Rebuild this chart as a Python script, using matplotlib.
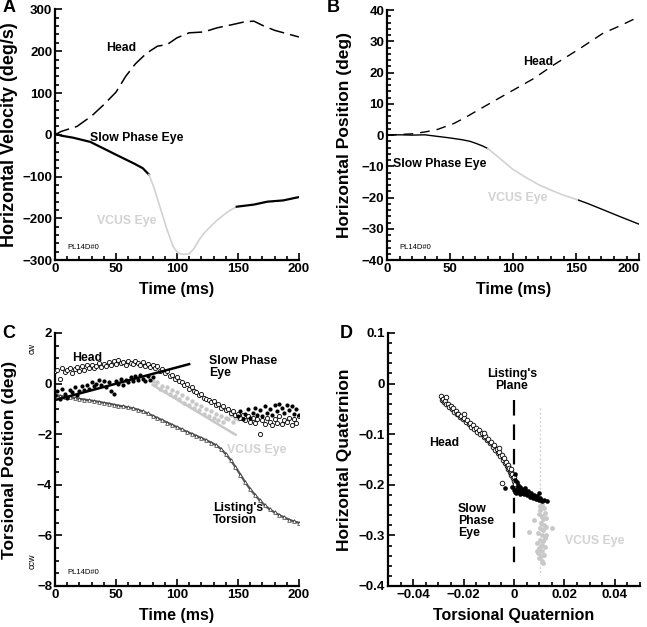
import matplotlib
matplotlib.use('Agg')
import matplotlib.pyplot as plt
from matplotlib.ticker import MultipleLocator

plt.rcParams['font.family'] = ['Liberation Sans', 'DejaVu Sans']
plt.rcParams['font.weight'] = 'bold'
plt.rcParams['axes.unicode_minus'] = True

GRAY = '#d2d2d2'

# --- panel A: horizontal velocity (deg/s)
a_head_t = [0, 5, 18, 30, 40, 50, 58, 66, 75, 84, 92, 100, 110, 122, 133, 146, 155, 163, 170, 180, 190, 200]
a_head_v = [0, 8, 20, 45, 72, 102, 140, 170, 195, 212, 216, 232, 244, 246, 256, 264, 270, 272, 262, 250, 242, 234]
a_slow1_t = [0, 5, 15, 29, 40, 51, 65, 72, 77]
a_slow1_v = [3, -2, -7, -17, -33, -49, -69, -80, -95]
a_vcus_t = [77, 81, 86, 92, 97, 101, 105, 110, 114, 118, 122, 128, 133, 139, 144, 149]
a_vcus_v = [-95, -125, -172, -228, -268, -283, -286, -285, -272, -252, -236, -218, -204, -190, -180, -172]
a_slow2_t = [149, 163, 174, 187, 200]
a_slow2_v = [-172, -167, -160, -157, -149]

# --- panel B: horizontal position (deg)
b_head_t = [0, 20, 30, 40, 53, 62, 71, 84, 98, 116, 132, 153, 171, 185, 200]
b_head_v = [0, 0.4, 1.0, 1.8, 3.7, 5.6, 7.7, 10.7, 13.9, 18.0, 22.4, 27.7, 32.5, 35.0, 37.9]
b_slow1_t = [0, 10, 20, 30, 40, 50, 60, 66, 71, 76, 80]
b_slow1_v = [0, 0.1, 0.0, 0.1, -0.4, -0.9, -1.5, -2.0, -2.7, -3.5, -4.3]
b_vcus_t = [80, 90, 100, 110, 120, 130, 140, 152]
b_vcus_v = [-4.3, -7.6, -11.0, -13.5, -15.8, -17.6, -19.2, -20.8]
b_slow2_t = [152, 160, 171, 185, 200]
b_slow2_v = [-20.8, -22.0, -23.8, -26.1, -28.5]
time_ticks = [0, 50, 100, 150, 200]

# --- panel C: torsional position (deg)
c_head_t = list(range(0, 201, 2))
c_head_v = [0.50, 0.55, 0.20, 0.60, 0.45, 0.55, 0.62, 0.40, 0.58, 0.65, 0.50, 0.68, 0.55, 0.72, 0.60,
            0.75, 0.62, 0.70, 0.80, 0.66, 0.78, 0.70, 0.85, 0.74, 0.88, 0.78, 0.92, 0.80, 0.86, 0.75,
            0.90, 0.82, 0.76, 0.88, 0.80, 0.72, 0.84, 0.70, 0.78, 0.65, 0.74, 0.60, 0.68, 0.50, 0.58,
            0.40, 0.48, 0.30, 0.35, 0.20, 0.25, 0.10, 0.05, -0.05, -0.02, -0.20, -0.15, -0.30, -0.35,
            -0.45, -0.40, -0.55, -0.60, -0.65, -0.72, -0.70, -0.85, -0.80, -0.95, -0.90, -1.05, -1.00,
            -1.15, -1.10, -1.25, -1.20, -1.35, -1.25, -1.45, -1.30, -1.50, -1.35, -1.55, -1.40, -2.00,
            -1.45, -1.60, -1.35, -1.50, -1.65, -1.40, -1.55, -1.30, -1.60, -1.45, -1.50, -1.35, -1.65,
            -1.40, -1.55, -1.30]
c_slow1_t = list(range(0, 81, 2))
c_slow1_v = [-0.45, -0.30, -0.60, -0.20, -0.40, -0.55, -0.25, -0.35, -0.15, -0.45, -0.30, -0.10,
             -0.25, -0.05, -0.20, 0.05, -0.10, 0.00, 0.15, -0.05, 0.10, -0.15, 0.05, -0.30, -0.40,
             0.10, 0.00, 0.20, -0.05, 0.15, 0.05, 0.25, 0.10, 0.30, 0.15, 0.35, 0.20, 0.10, 0.30,
             0.15, 0.25]
c_slow2_t = list(range(150, 201, 2))
c_slow2_v = [-1.30, -1.10, -1.40, -1.20, -1.00, -1.35, -1.15, -0.95, -1.25, -1.05, -1.30, -0.90,
             -1.15, -1.00, -1.25, -0.85, -1.10, -0.80, -0.95, -1.15, -0.85, -1.05, -0.90, -1.20,
             -1.00, -1.25]
c_vcus_t = list(range(80, 151, 2))
c_vcus_v = [0.10, -0.05, 0.05, -0.20, -0.10, -0.30, -0.15, -0.40, -0.25, -0.50, -0.35, -0.60,
            -0.45, -0.75, -0.55, -0.85, -0.70, -0.95, -0.80, -1.05, -0.90, -1.20, -1.00, -1.30,
            -1.10, -1.35, -1.20, -1.45, -1.30, -1.50, -1.35, -1.40, -1.25, -1.50, -1.35, -1.40]
c_list_t = list(range(0, 201, 4))
c_list_v = [-0.45, -0.48, -0.51, -0.54, -0.57, -0.60, -0.63, -0.66, -0.69, -0.72, -0.76, -0.79,
            -0.83, -0.87, -0.90, -0.94, -0.98, -1.03, -1.10, -1.18, -1.27, -1.36, -1.45, -1.54,
            -1.63, -1.72, -1.81, -1.90, -1.98, -2.07, -2.15, -2.24, -2.33, -2.43, -2.58, -2.78,
            -3.02, -3.30, -3.60, -3.90, -4.17, -4.40, -4.62, -4.81, -4.97, -5.09, -5.20, -5.29,
            -5.38, -5.45, -5.50]
c_fit_slow_t = [0, 110]
c_fit_slow_v = [-0.65, 0.77]
c_fit_vcus_t = [80, 148]
c_fit_vcus_v = [-0.05, -2.02]

# --- panel D: quaternions
d_head_q = [-0.0290, -0.0285, -0.0280, -0.0276, -0.0272, -0.0268, -0.0262, -0.0258, -0.0252, -0.0247,
            -0.0243, -0.0238, -0.0232, -0.0226, -0.0221, -0.0215, -0.0210, -0.0204, -0.0198, -0.0192,
            -0.0186, -0.0180, -0.0175, -0.0169, -0.0163, -0.0157, -0.0151, -0.0145, -0.0139, -0.0133,
            -0.0127, -0.0121, -0.0115, -0.0109, -0.0103, -0.0097, -0.0091, -0.0085, -0.0080, -0.0074,
            -0.0069, -0.0064, -0.0059, -0.0054, -0.0049, -0.0045, -0.0040, -0.0036, -0.0032, -0.0028,
            -0.0025, -0.0022, -0.0019, -0.0016, -0.0013, -0.0010, -0.0007, -0.0004, -0.0002, 0.0001,
            0.0004, -0.0046, -0.0270, -0.0200, -0.0120, -0.0060, -0.0010]
d_head_h = [-0.024, -0.033, -0.030, -0.036, -0.034, -0.041, -0.040, -0.046, -0.044, -0.051,
            -0.049, -0.056, -0.055, -0.061, -0.060, -0.066, -0.064, -0.070, -0.068, -0.075,
            -0.072, -0.080, -0.078, -0.085, -0.082, -0.090, -0.087, -0.095, -0.092, -0.100,
            -0.097, -0.106, -0.103, -0.112, -0.110, -0.118, -0.116, -0.125, -0.122, -0.131,
            -0.129, -0.138, -0.135, -0.144, -0.142, -0.151, -0.148, -0.157, -0.155, -0.163,
            -0.161, -0.169, -0.167, -0.175, -0.173, -0.181, -0.179, -0.187, -0.185, -0.193,
            -0.198, -0.196, -0.027, -0.060, -0.097, -0.128, -0.168]
d_slow_q = [-0.0037, -0.0008, 0.0000, 0.0003, 0.0006, 0.0009, 0.0012, 0.0015, 0.0018, 0.0021,
            0.0024, 0.0027, 0.0030, 0.0033, 0.0036, 0.0040, 0.0044, 0.0048, 0.0052, 0.0056,
            0.0060, 0.0064, 0.0068, 0.0072, 0.0076, 0.0080, 0.0084, 0.0088, 0.0092, 0.0096,
            0.0100, 0.0104, 0.0108, 0.0112, 0.0120, 0.0131, 0.0099, 0.0005, 0.0015, 0.0025,
            0.0002, 0.0010, 0.0045, 0.0055]
d_slow_h = [-0.207, -0.205, -0.210, -0.214, -0.208, -0.216, -0.211, -0.207, -0.215, -0.210,
            -0.218, -0.212, -0.209, -0.216, -0.213, -0.219, -0.211, -0.216, -0.221, -0.214,
            -0.219, -0.224, -0.217, -0.222, -0.226, -0.220, -0.225, -0.229, -0.223, -0.228,
            -0.231, -0.226, -0.230, -0.233, -0.231, -0.232, -0.216, -0.190, -0.200, -0.205,
            -0.178, -0.195, -0.206, -0.212]
d_vcus_q = [0.0112, 0.0118, 0.0105, 0.0122, 0.0110, 0.0098, 0.0115, 0.0125, 0.0108, 0.0119,
            0.0102, 0.0114, 0.0126, 0.0096, 0.0110, 0.0121, 0.0104, 0.0092, 0.0117, 0.0108,
            0.0100, 0.0113, 0.0123, 0.0095, 0.0106, 0.0118, 0.0101, 0.0112, 0.0090, 0.0115,
            0.0059, 0.0151, 0.0078, 0.0128, 0.0103, 0.0111]
d_vcus_h = [-0.238, -0.245, -0.250, -0.255, -0.262, -0.258, -0.268, -0.265, -0.275, -0.280,
            -0.285, -0.290, -0.283, -0.295, -0.300, -0.305, -0.310, -0.315, -0.312, -0.320,
            -0.325, -0.330, -0.322, -0.335, -0.340, -0.338, -0.345, -0.350, -0.330, -0.355,
            -0.293, -0.285, -0.270, -0.300, -0.242, -0.318]
d_listing_q = [0, 0]
d_listing_h = [-0.033, -0.359]
d_vcusaxis_q = [0.0105, 0.0105]
d_vcusaxis_h = [-0.049, -0.379]


def style(ax, xmaj, xmin, ymaj, ymin):
    for s in ['top', 'right']:
        ax.spines[s].set_visible(False)
    for s in ['left', 'bottom']:
        ax.spines[s].set_linewidth(1.6)
    ax.xaxis.set_major_locator(MultipleLocator(xmaj))
    ax.xaxis.set_minor_locator(MultipleLocator(xmin))
    ax.yaxis.set_major_locator(MultipleLocator(ymaj))
    ax.yaxis.set_minor_locator(MultipleLocator(ymin))
    ax.tick_params(which='both', direction='in', width=1.2, labelsize=9.5, pad=2)
    ax.tick_params(which='major', length=5)
    ax.tick_params(which='minor', length=3)


def labels(ax, xl, yl, ysize, yx):
    ax.set_xlabel(xl, fontsize=11.5, fontweight='bold')
    ax.set_ylabel(yl, fontsize=ysize, fontweight='bold')
    ax.xaxis.set_label_coords(0.5, -0.088)
    ax.yaxis.set_label_coords(yx, 0.5)
    for lab in ax.get_xticklabels() + ax.get_yticklabels():
        lab.set_fontweight('bold')


fig = plt.figure(figsize=(6.47, 6.27), dpi=100)
axA = fig.add_axes([0.085, 0.585, 0.377, 0.400])
axB = fig.add_axes([0.598, 0.585, 0.390, 0.399])
axC = fig.add_axes([0.085, 0.0654, 0.377, 0.4035])
axD = fig.add_axes([0.5997, 0.0654, 0.3895, 0.4035])

# A
axA.plot(a_head_t, a_head_v, color='black', lw=1.1, dashes=(10, 4))
axA.plot(a_slow1_t, a_slow1_v, color='black', lw=1.6)
axA.plot(a_vcus_t, a_vcus_v, color=GRAY, lw=1.2)
axA.plot(a_slow2_t, a_slow2_v, color='black', lw=1.6)
axA.set_xlim(0, 200)
axA.set_ylim(-300, 300)
style(axA, 50, 10, 100, 20)
labels(axA, 'Time (ms)', 'Horizontal Velocity (deg/s)', 13, -0.152)

# B
axB.plot(b_head_t, b_head_v, color='black', lw=1.0, dashes=(7, 5))
axB.plot(b_slow1_t, b_slow1_v, color='black', lw=1.0)
axB.plot(b_vcus_t, b_vcus_v, color=GRAY, lw=1.2)
axB.plot(b_slow2_t, b_slow2_v, color='black', lw=1.0)
axB.set_xlim(0, 200)
axB.set_ylim(-40, 40)
style(axB, 50, 10, 10, 2)
axB.set_xticks(time_ticks)
axB.set_xticklabels([str(t) for t in time_ticks])
labels(axB, 'Time (ms)', 'Horizontal Position (deg)', 12.5, -0.139)
# the last time label sits left of its tick so that it stays inside the figure
axB.get_xticklabels()[len(time_ticks) - 1].set_horizontalalignment('right')

# C
axC.plot(c_list_t, c_list_v, color='#555555', lw=1.6, marker='^', ms=2.6, mfc='white',
         mec='#333333', mew=0.5, zorder=2)
axC.scatter(c_vcus_t, c_vcus_v, s=10, color='#c8c8c8', lw=0, zorder=2)
axC.scatter(c_head_t, c_head_v, s=9, facecolor='white', edgecolor='black', lw=0.6, zorder=3)
axC.scatter(c_slow1_t, c_slow1_v, s=9, color='black', lw=0, zorder=4)
axC.scatter(c_slow2_t, c_slow2_v, s=9, color='black', lw=0, zorder=4)
axC.plot(c_fit_slow_t, c_fit_slow_v, color='black', lw=1.8, zorder=5)
axC.plot(c_fit_vcus_t, c_fit_vcus_v, color='#c8c8c8', lw=1.8, zorder=2)
axC.set_xlim(0, 200)
axC.set_ylim(-8, 2)
style(axC, 50, 10, 2, 0.5)
labels(axC, 'Time (ms)', 'Torsional Position (deg)', 12.5, -0.156)

# D
axD.plot(d_listing_q, d_listing_h, color='black', lw=1.6, dashes=(7, 4))
axD.plot(d_vcusaxis_q, d_vcusaxis_h, color=GRAY, lw=1.0, dashes=(1.5, 1.5))
axD.scatter(d_vcus_q, d_vcus_h, s=12, color='#c8c8c8', lw=0, zorder=2)
axD.scatter(d_head_q, d_head_h, s=11, facecolor='white', edgecolor='black', lw=0.6, zorder=3)
axD.scatter(d_slow_q, d_slow_h, s=11, color='black', lw=0, zorder=4)
axD.set_xlim(-0.05, 0.05)
axD.set_ylim(-0.4, 0.1)
style(axD, 0.02, 0.005, 0.1, 0.02)
axD.set_xticks([-0.04, -0.02, 0, 0.02, 0.04])
axD.set_xticklabels(['\u22120.04', '\u22120.02', '0', '0.02', '0.04'])
axD.set_yticks([0.1, 0, -0.1, -0.2, -0.3, -0.4])
axD.set_yticklabels(['0.1', '0', '\u22120.1', '\u22120.2', '\u22120.3', '\u22120.4'])
labels(axD, 'Torsional Quaternion', 'Horizontal Quaternion', 12.5, -0.143)


# annotations in pixel positions of the figure
def ftext(x, y, s, **kw):
    fig.text(x / 647, 1 - y / 627, s, **kw)


lab = dict(fontsize=8.8, fontweight='bold')
for x, y, s in [(9, 8, 'A'), (333, 8, 'B'), (9, 333, 'C'), (346, 334, 'D')]:
    ftext(x, y, s, fontsize=13, fontweight='bold', ha='center', va='center')

ftext(121, 48, 'Head', ha='center', va='center', **lab)
ftext(137, 138, 'Slow Phase Eye', ha='center', va='center', **lab)
ftext(127, 221, 'VCUS Eye', ha='center', va='center', color=GRAY, **lab)
ftext(67, 248, 'PL14D#0', ha='left', va='center', fontsize=5.5, fontweight='normal')

ftext(538, 62, 'Head', ha='center', va='center', **lab)
ftext(440, 164, 'Slow Phase Eye', ha='center', va='center', **lab)
ftext(518, 198, 'VCUS Eye', ha='center', va='center', color=GRAY, **lab)
ftext(399, 248, 'PL14D#0', ha='left', va='center', fontsize=5.5, fontweight='normal')

ftext(32, 348, 'cw', ha='center', va='center', rotation=90, fontsize=6.5, fontweight='normal')
ftext(32, 561, 'ccw', ha='center', va='center', rotation=90, fontsize=6.5, fontweight='normal')
ftext(87, 358, 'Head', ha='center', va='center', **lab)
ftext(209, 367, 'Slow Phase\nEye', ha='left', va='center', linespacing=1.0, **lab)
ftext(257, 450, 'VCUS Eye', ha='center', va='center', color=GRAY, **lab)
ftext(213, 514, "Listing's\nTorsion", ha='left', va='center', linespacing=1.0, **lab)
ftext(67, 572, 'PL14D#0', ha='left', va='center', fontsize=5.5, fontweight='normal')

ftext(512, 380, "Listing's\nPlane", ha='center', va='center', linespacing=1.0, **lab)
ftext(444, 443, 'Head', ha='center', va='center', **lab)
ftext(458, 521, 'Slow\nPhase\nEye', ha='left', va='center', linespacing=1.0, **lab)
ftext(595, 541, 'VCUS Eye', ha='center', va='center', color=GRAY, **lab)

fig.savefig('out.png', dpi=100)
